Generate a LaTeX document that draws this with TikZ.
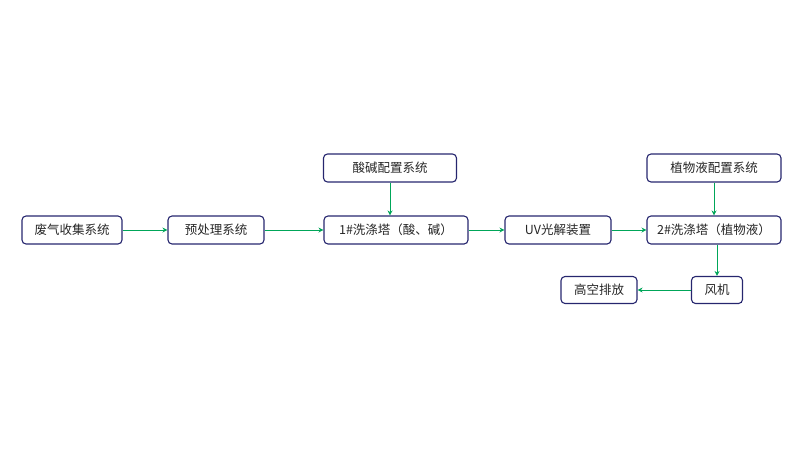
\documentclass[tikz,border=0pt]{standalone}
\usepackage{fontspec}
\setmainfont{Noto Sans CJK SC}
\usetikzlibrary{arrows.meta}
\begin{document}
\begin{tikzpicture}[x=1pt,y=-1pt,
  box/.style={draw=black!60!blue!70!gray,line width=1.1pt,rounded corners=4pt,minimum height=28pt,inner sep=2pt,font=\fontsize{12.5}{14}\selectfont,text=black!85},
  arr/.style={draw=teal!70!green,line width=0.9pt,-{Stealth[length=5pt,width=5pt]}}]
\useasboundingbox (0,0) rectangle (810,450);
\node[box,minimum width=100pt] (a) at (72,230) {废气收集系统};
\node[box,minimum width=96pt] (b) at (216,230) {预处理系统};
\node[box,minimum width=144pt] (c) at (396,230) {1\#洗涤塔（酸、碱）};
\node[box,minimum width=106pt] (d) at (558,230) {UV光解装置};
\node[box,minimum width=134pt] (e) at (714,230) {2\#洗涤塔（植物液）};
\node[box,minimum width=133pt] (f) at (390,168) {酸碱配置系统};
\node[box,minimum width=134pt] (g) at (714,168) {植物液配置系统};
\node[box,minimum width=51pt,minimum height=27pt] (h) at (717,290) {风机};
\node[box,minimum width=76pt,minimum height=27pt] (i) at (599,290) {高空排放};
\draw[arr] (a) -- (b);
\draw[arr] (b) -- (c);
\draw[arr] (c) -- (d);
\draw[arr] (d) -- (e);
\draw[arr] (f.south) -- (f.south|-c.north);
\draw[arr] (g) -- (e);
\draw[arr] (e.south-|h.north) -- (h.north);
\draw[arr] (h) -- (i);
\end{tikzpicture}
\end{document}
